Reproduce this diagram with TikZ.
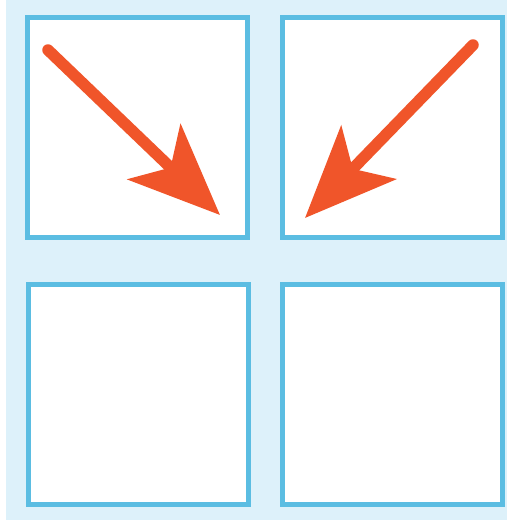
\documentclass[tikz,border=0pt]{standalone}
\usetikzlibrary{arrows.meta}
\definecolor{paneblue}{HTML}{5BBDE2}
\definecolor{bgblue}{HTML}{DDF1FA}
\definecolor{arrowred}{HTML}{F0552A}
\tikzset{
  pane/.style={draw=paneblue,fill=white,line width=0.11cm,minimum size=4.4cm,inner sep=0pt},
  point/.style={draw=arrowred,line width=0.23cm,line cap=round,
    -{Stealth[length=1.82cm,width=1.52cm,inset=0.45cm]}}
}
\begin{document}
\begin{tikzpicture}[x=0.02cm,y=-0.02cm]
\useasboundingbox (0,0) rectangle (507,524);
\fill[bgblue] (6,0) rectangle (507,520);
\node[pane] (tl) at (137.5,127.5) {};
\node[pane] (tr) at (392.5,127.5) {};
\node[pane] (bl) at (138.5,394.5) {};
\node[pane] (br) at (392.5,394.5) {};
\coordinate (tltail) at (48,50);
\coordinate (tlhead) at (220,215);
\coordinate (trtail) at (473,45);
\coordinate (trhead) at (305,218);
\draw[point] (tltail)--(tlhead);
\draw[point] (trtail)--(trhead);
\end{tikzpicture}
\end{document}
